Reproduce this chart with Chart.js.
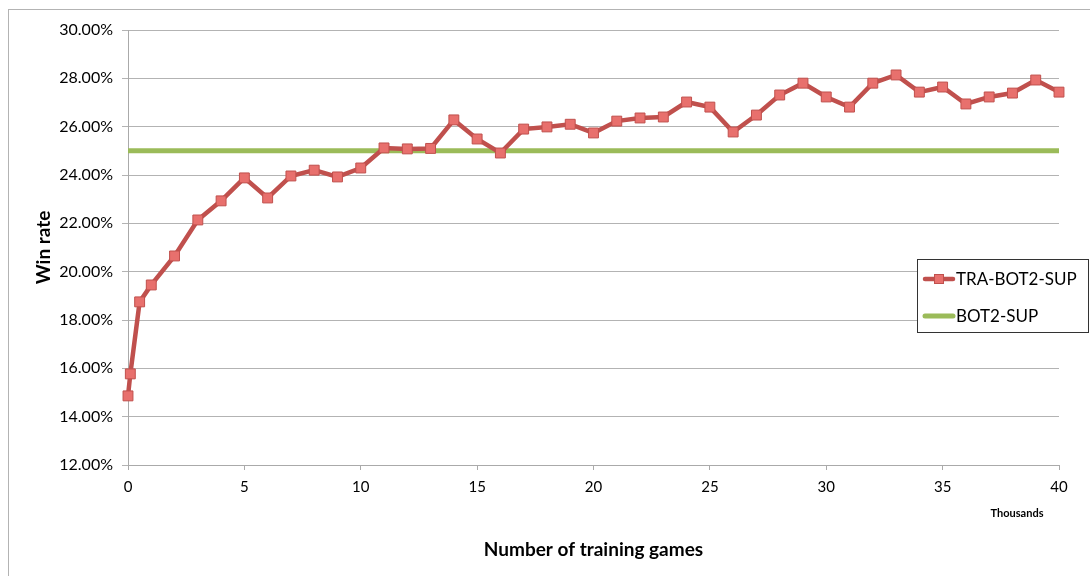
<!DOCTYPE html>
<html>
<head>
<meta charset="utf-8">
<script src="https://cdn.jsdelivr.net/npm/chart.js@4"></script>
<style>
  html, body { margin: 0; padding: 0; background: #fff; }
  #wrap { width: 1090px; height: 576px; }
</style>
</head>
<body>
<div id="wrap"><canvas id="chart" width="1090" height="576"></canvas></div>
<script>
// training games (thousands) and win rate (%)
let games = [0, 0.1, 0.5, 1, 2, 3, 4, 5, 6, 7, 8, 9, 10, 11, 12, 13, 14, 15, 16, 17, 18, 19, 20,
  21, 22, 23, 24, 25, 26, 27, 28, 29, 30, 31, 32, 33, 34, 35, 36, 37, 38, 39, 40];
let winRate = [14.86, 15.77, 18.75, 19.45, 20.65, 22.14, 22.93, 23.88, 23.05, 23.96, 24.2, 23.92, 24.29,
  25.12, 25.08, 25.1, 26.28, 25.49, 24.91, 25.9, 25.99, 26.1, 25.74, 26.23, 26.36, 26.4,
  27.02, 26.81, 25.78, 26.48, 27.31, 27.8, 27.23, 26.81, 27.8, 28.14, 27.43, 27.64,
  26.94, 27.23, 27.39, 27.93, 27.43];
let baselineX = [0, 40];
let baseline = [25, 25];

let seriesNames = ['TRA-BOT2-SUP', 'BOT2-SUP'];

Chart.defaults.font.family = 'Lato';
Chart.defaults.color = '#000';

const red = '#c0504d';
const green = '#9bbb59';

const frame = {
    id: 'frame',
    beforeDraw(chart) {
        const ctx = chart.ctx;
        ctx.save();
        ctx.strokeStyle = '#b3b3b3';
        ctx.lineWidth = 1;
        ctx.strokeRect(8.5, 9.5, 1200, 800);
        ctx.restore();
    },
    afterDraw(chart) {
        const ctx = chart.ctx;
        ctx.save();
        // Thousands label
        ctx.font = 'bold 11px Lato';
        ctx.fillStyle = '#000';
        ctx.textAlign = 'center';
        ctx.textBaseline = 'middle';
        ctx.fillText('Thousands', 1017, 513);

        // legend box
        ctx.fillStyle = '#fff';
        ctx.fillRect(917, 259, 171, 73);
        ctx.strokeStyle = '#333';
        ctx.lineWidth = 1;
        ctx.strokeRect(917.5, 259.5, 171, 73);

        const rows = [279, 316];
        ctx.lineCap = 'round';
        // red sample
        ctx.strokeStyle = red;
        ctx.lineWidth = 4.5;
        ctx.beginPath();
        ctx.moveTo(925, rows[0]);
        ctx.lineTo(953, rows[0]);
        ctx.stroke();
        ctx.fillStyle = '#e8706d';
        ctx.fillRect(934, rows[0] - 5, 10, 10);
        ctx.lineWidth = 1;
        ctx.strokeRect(934.5, rows[0] - 4.5, 9, 9);
        // green sample
        ctx.strokeStyle = green;
        ctx.lineWidth = 5;
        ctx.beginPath();
        ctx.moveTo(925, rows[1]);
        ctx.lineTo(953, rows[1]);
        ctx.stroke();

        ctx.fillStyle = '#000';
        ctx.font = '17px Lato';
        ctx.textAlign = 'left';
        ctx.fillText(seriesNames[0], 956, rows[0] + 1);
        ctx.fillText(seriesNames[1], 956, rows[1] + 1);
        ctx.restore();
    }
};

const ctx = document.getElementById('chart');

new Chart(ctx, {
    type: 'line',
    data: {
        datasets: [{
            label: seriesNames[1],
            data: baselineX.map((x, i) => ({x: x, y: baseline[i]})),
            borderColor: green,
            borderWidth: 5,
            pointRadius: 0,
            order: 2
        }, {
            label: seriesNames[0],
            data: games.map((x, i) => ({x: x, y: winRate[i]})),
            borderColor: red,
            borderWidth: 4.5,
            pointStyle: 'rect',
            pointRadius: 7,
            pointBackgroundColor: '#e8706d',
            pointBorderColor: red,
            pointBorderWidth: 1,
            clip: false,
            order: 1
        }]
    },
    options: {
        responsive: false,
        animation: false,
        layout: { padding: { top: 30, right: 31, bottom: 0, left: 0 } },
        plugins: {
            legend: { display: false },
            tooltip: { enabled: false }
        },
        scales: {
            x: {
                type: 'linear',
                min: 0,
                max: 40,
                ticks: { stepSize: 5, padding: 8, font: { size: 15 } },
                grid: { drawOnChartArea: false, tickLength: 5, color: '#aaa' },
                border: { color: '#aaa' },
                title: {
                    display: true,
                    text: 'Number of training games',
                    font: { size: 19, weight: 'bold' },
                    padding: { top: 0, bottom: 15 }
                },
                afterFit(scale) { scale.height = 111; }
            },
            y: {
                min: 12,
                max: 30,
                ticks: {
                    stepSize: 2,
                    padding: 9,
                    font: { size: 16 },
                    callback: (v) => v.toFixed(2) + '%'
                },
                grid: { color: '#b3b3b3', tickLength: 6 },
                border: { color: '#aaa' },
                title: {
                    display: true,
                    text: 'Win rate',
                    font: { size: 19, weight: 'bold' },
                    padding: { top: 32, bottom: 0 }
                },
                afterFit(scale) { scale.width = 128; }
            }
        }
    },
    plugins: [frame]
});
</script>
</body>
</html>
